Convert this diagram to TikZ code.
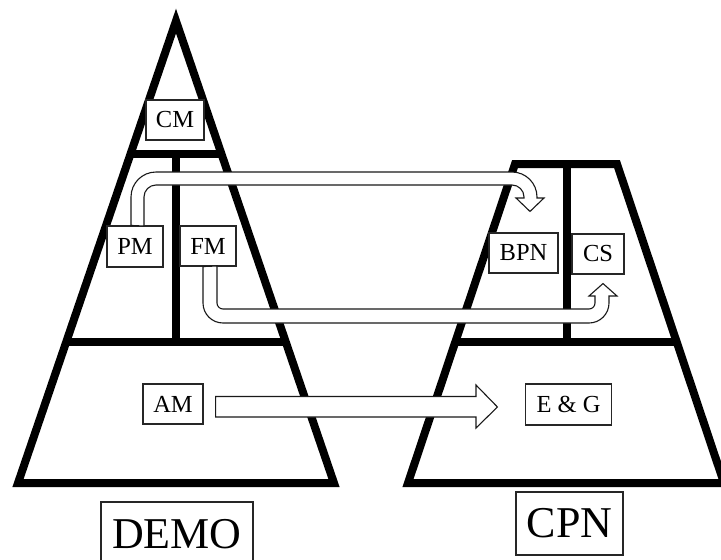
\documentclass[tikz,border=0pt]{standalone}
\usepackage{fontspec}
\setmainfont{Liberation Serif}
\usetikzlibrary{calc}
\begin{document}
\begin{tikzpicture}[x=1pt,y=1pt,
  thickline/.style={line width=8pt, line join=miter},
  lbl/.style={draw=black!85, line width=1.1pt, fill=white, inner sep=0pt, font=\fontsize{24.5}{28}\selectfont},
  biglbl/.style={draw=black!85, line width=1.1pt, fill=white, inner sep=0pt, font=\fontsize{44}{50}\selectfont},
  hollow/.style={draw=black!90, line width=1.1pt, fill=white, line join=miter}]
\clip (0,0) rectangle (721,-560);
% left pyramid
\draw[thickline] (176,-21) -- (334,-483) -- (18,-483) -- cycle;
\draw[thickline] (130.5,-154) -- (221.5,-154);
\draw[thickline] (66.2,-342) -- (285.8,-342);
\draw[thickline] (176,-154) -- (176,-342);
% right trapezoid
\draw[thickline] (515,-164) -- (617,-164) -- (724,-483) -- (408,-483) -- cycle;
\draw[thickline] (455.3,-342) -- (676.7,-342);
\draw[thickline] (567,-164) -- (567,-342);
% boxes
\node[lbl, minimum width=58pt, minimum height=40pt] (CM) at (175,-120) {CM};
\node[lbl, minimum width=56pt, minimum height=41pt] (PM) at (135,-246.5) {PM};
\node[lbl, minimum width=56pt, minimum height=40pt] (FM) at (208,-246) {FM};
\node[lbl, minimum width=69pt, minimum height=40pt] (BPN) at (523.5,-253) {BPN};
\node[lbl, minimum width=52pt, minimum height=40pt] (CS) at (598,-254) {CS};
\node[lbl, minimum width=60pt, minimum height=40pt] (AM) at (173,-404) {AM};
\node[lbl, minimum width=86pt, minimum height=41pt] (EG) at (568.5,-404.5) {E \& G};
\node[biglbl, minimum width=152pt, minimum height=64pt] (DEMO) at (177,-534) {DEMO};
\node[biglbl, minimum width=107pt, minimum height=63pt] (CPN) at (569.5,-523.5) {CPN};
% hollow arrows
\draw[hollow] ($(PM.north)+(-4,0)$) -- (131,-197) arc[start angle=180,end angle=90,radius=25]
  -- (512,-172) arc[start angle=90,end angle=0,radius=25] -- (537,-198) -- (544,-198)
  -- ($(BPN.north)+(6.5,21)$) coordinate (t1) -- (516,-198) -- (524,-198) -- (524,-197)
  arc[start angle=0,end angle=90,radius=12] -- (156,-185)
  arc[start angle=90,end angle=180,radius=12] -- (144,-226) -- cycle;
\draw[hollow] ($(FM.south)+(-5,0)$) -- (203,-303) arc[start angle=180,end angle=270,radius=20]
  -- (589,-323) arc[start angle=270,end angle=360,radius=20] -- (609,-296) -- (617,-296)
  -- ($(CS.south)+(5,-9)$) coordinate (t2) -- (589,-296) -- (595,-296) -- (595,-303)
  arc[start angle=0,end angle=-90,radius=6] -- (223,-309)
  arc[start angle=270,end angle=180,radius=6] -- (217,-266) -- cycle;
\draw[hollow] ($(AM.east)+(12,7.5)$) -- (476,-396.5) -- (476,-385)
  -- ($(EG.west)+(-27.5,-2.5)$) coordinate (t3) -- (476,-428) -- (476,-417)
  -- ($(AM.east)+(12,-13)$) -- cycle;
\end{tikzpicture}
\end{document}
